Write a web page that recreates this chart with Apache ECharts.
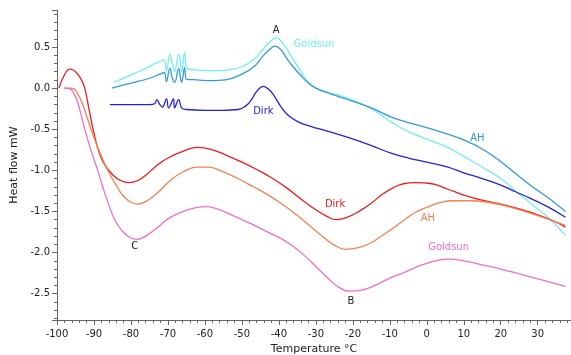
<!DOCTYPE html>
<html>
<head>
<meta charset="utf-8">
<script src="https://cdn.jsdelivr.net/npm/echarts@6/dist/echarts.min.js"></script>
<style>
  html, body { margin: 0; padding: 0; background: #fff; }
  #chart { width: 571px; height: 355px; }
</style>
</head>
<body>
<div id="chart"></div>
<script>
// DSC traces: [temperature °C, heat flow mW]
const goldsunUpper = [
  [-84.6, 0.07], [-80, 0.16], [-76, 0.24], [-73, 0.31], [-71.7, 0.33], [-71, 0.35],
  [-70.4, 0.21], [-69.5, 0.41], [-68.8, 0.3], [-68.2, 0.2], [-67.1, 0.41], [-66.6, 0.3],
  [-66.3, 0.2], [-65.5, 0.43], [-65, 0.25], [-62, 0.22], [-58, 0.21], [-54, 0.22],
  [-50, 0.26], [-46.5, 0.36], [-44.5, 0.46], [-42.5, 0.56], [-40.7, 0.61], [-39, 0.55],
  [-36.7, 0.39], [-34, 0.2], [-32, 0.07], [-30, 0.0], [-26, -0.06], [-21.3, -0.12],
  [-15, -0.25], [-9.7, -0.41], [-5, -0.53], [0, -0.62], [5.7, -0.72], [10, -0.83],
  [15, -0.96], [20, -1.1], [24, -1.25], [28, -1.4], [33, -1.58], [37.5, -1.79]
];
const ahUpper = [
  [-85.2, 0.0], [-80, 0.06], [-75, 0.12], [-71.7, 0.18], [-71, 0.19],
  [-70.4, 0.08], [-69.5, 0.24], [-68.8, 0.12], [-68.2, 0.07], [-67.1, 0.24], [-66.6, 0.12],
  [-66.3, 0.07], [-65.5, 0.25], [-65, 0.11], [-62, 0.1], [-58, 0.09], [-54.5, 0.1],
  [-50, 0.17], [-46.5, 0.27], [-44.5, 0.38], [-42.5, 0.47], [-41, 0.51], [-39.5, 0.47],
  [-38, 0.37], [-36.7, 0.29], [-34, 0.15], [-32, 0.06], [-30, 0.0], [-26, -0.07],
  [-21.3, -0.14], [-15, -0.24], [-9.7, -0.35], [-5, -0.42], [0, -0.48], [5, -0.55],
  [10, -0.63], [15, -0.74], [19, -0.86], [23.5, -1.02], [28, -1.18], [33, -1.34], [37.5, -1.5]
];
const dirkUpper = [
  [-85.7, -0.2], [-80, -0.2], [-75, -0.2], [-73.6, -0.19], [-73, -0.14], [-72.2, -0.2],
  [-71.5, -0.23], [-70.4, -0.13], [-69.8, -0.24], [-68.5, -0.13], [-68.2, -0.24],
  [-67.1, -0.14], [-66.3, -0.24], [-65, -0.26], [-60, -0.27], [-55, -0.27], [-51, -0.26],
  [-48.8, -0.21], [-47.4, -0.14], [-46, -0.04], [-44.2, 0.02], [-42.6, -0.02], [-41.2, -0.1],
  [-39.4, -0.23], [-37.5, -0.33], [-34.8, -0.41], [-31, -0.47], [-27.8, -0.51],
  [-21.3, -0.6], [-15, -0.7], [-9.7, -0.79], [-5, -0.85], [0, -0.9], [5.7, -0.96],
  [10, -1.03], [15, -1.1], [20, -1.18], [24, -1.26], [28, -1.34], [33, -1.45], [37.5, -1.57]
];
const dirkLower = [
  [-99.5, 0.0], [-98, 0.16], [-96.5, 0.23], [-95, 0.2], [-93.5, 0.11], [-92.5, 0.0],
  [-91.5, -0.22], [-90, -0.55], [-88.5, -0.8], [-87, -0.94], [-85, -1.05], [-83, -1.12],
  [-80.6, -1.15], [-78, -1.12], [-75.5, -1.04], [-73, -0.94], [-70, -0.85], [-66, -0.77],
  [-62, -0.72], [-58, -0.75], [-54, -0.82], [-50, -0.9], [-46, -0.99], [-42, -1.09],
  [-38, -1.21], [-34, -1.35], [-30, -1.48], [-27, -1.56], [-24.5, -1.6], [-21.5, -1.57],
  [-18, -1.49], [-15, -1.4], [-12, -1.29], [-9, -1.21], [-6, -1.16], [-3, -1.15], [1, -1.16],
  [5.7, -1.23], [10, -1.3], [14.6, -1.36], [20, -1.41], [25, -1.47], [30, -1.54], [34, -1.61],
  [37.5, -1.69]
];
const ahLower = [
  [-98, 0.0], [-96.5, 0.0], [-95.4, -0.01], [-94.5, -0.06], [-93.3, -0.17], [-92, -0.34],
  [-90.5, -0.54], [-89, -0.72], [-87.5, -0.88], [-85.7, -1.05], [-84, -1.18], [-82.3, -1.3],
  [-80.3, -1.38], [-78.4, -1.41], [-76, -1.38], [-72.5, -1.26], [-69.5, -1.13], [-66, -1.02],
  [-62, -0.96], [-59, -0.96], [-56, -1.0], [-51.5, -1.09], [-46.9, -1.2], [-42.5, -1.31],
  [-38.5, -1.43], [-35, -1.55], [-31.5, -1.68], [-28, -1.81], [-25, -1.91], [-22, -1.96],
  [-18.5, -1.94], [-15, -1.88], [-12, -1.79], [-9, -1.7], [-6, -1.6], [-3, -1.51],
  [0, -1.45], [3, -1.4], [6.5, -1.37], [12, -1.37], [18, -1.4], [23.5, -1.46], [30, -1.55],
  [37.5, -1.67]
];
const goldsunLower = [
  [-98, 0.0], [-96.5, -0.01], [-95.5, -0.06], [-94.5, -0.16], [-93.3, -0.36], [-92, -0.58],
  [-90.5, -0.8], [-89, -1.0], [-87.5, -1.22], [-86, -1.42], [-84.4, -1.6], [-82.5, -1.73],
  [-80.5, -1.81], [-78.3, -1.84], [-76, -1.8], [-73, -1.7], [-70, -1.59], [-66.5, -1.51],
  [-63, -1.46], [-59.6, -1.44], [-56, -1.48], [-51.5, -1.57], [-47, -1.66], [-42.6, -1.76],
  [-39, -1.84], [-36, -1.93], [-33, -2.04], [-30, -2.17], [-27, -2.3], [-24.5, -2.4],
  [-21, -2.47], [-18, -2.46], [-14, -2.4], [-10, -2.31], [-6, -2.24], [-3, -2.18], [0, -2.13],
  [5.7, -2.08], [10, -2.1], [15, -2.15], [20, -2.2], [25, -2.26], [30, -2.32], [37.5, -2.41]
];

// annotations: [temperature, heat flow]
const peakA = [-40.7, 0.7];
const peakB = [-20.5, -2.59];
const peakC = [-79, -1.93];
const goldsunUpperTag = [-30.5, 0.53];
const dirkUpperTag = [-44.2, -0.28];
const ahUpperTag = [13.7, -0.61];
const dirkLowerTag = [-24.8, -1.42];
const ahLowerTag = [0.3, -1.58];
const goldsunLowerTag = [5.9, -1.94];

const COLORS = {
  goldsunUpper: "#72EEF0",
  ahUpper: "#3399D9",
  dirkUpper: "#2222DD",
  dirkLower: "#F01C1C",
  ahLower: "#F5824F",
  goldsunLower: "#F36EC8",
  text: "#222222",
  axis: "#666666",
};
const FONT = "'DejaVu Sans', Verdana, sans-serif";

function tag(coord, text, color) {
  return {
    coord: coord,
    value: text,
    symbol: "circle",
    symbolSize: 0,
    label: {
      show: true,
      position: "inside",
      formatter: text,
      color: color,
      fontFamily: FONT,
      fontSize: 10,
    },
  };
}

function traceSeries(name, data, color, tags) {
  return {
    name: name,
    type: "line",
    data: data,
    showSymbol: false,
    smooth: 0.45,
    lineStyle: { color: color, width: 1.3 },
    itemStyle: { color: color },
    animation: false,
    silent: true,
    markPoint: { silent: true, animation: false, data: tags },
  };
}

const chart = echarts.init(document.getElementById("chart"));

chart.setOption({
  animation: false,
  textStyle: { fontFamily: FONT },
  grid: { left: 57, right: 0, top: 10, bottom: 35, containLabel: false, outerBoundsMode: "none" },
  xAxis: {
    type: "value",
    min: -100,
    max: 39,
    interval: 10,
    name: "Temperature °C",
    nameLocation: "middle",
    nameGap: 24,
    nameTextStyle: { color: COLORS.text, fontSize: 11, fontFamily: FONT },
    axisLine: { onZero: false, lineStyle: { color: COLORS.axis } },
    axisTick: { length: 5, lineStyle: { color: COLORS.axis } },
    minorTick: { show: true, splitNumber: 5, length: 3, lineStyle: { color: COLORS.axis } },
    splitLine: { show: false },
    axisLabel: {
      color: COLORS.text,
      fontSize: 10,
      margin: 9,
      formatter: (v) => (Math.abs(v % 10) < 1e-6 ? String(v) : ""),
    },
  },
  yAxis: {
    type: "value",
    min: -2.82,
    max: 0.95,
    splitNumber: 7,
    name: "Heat flow mW",
    nameLocation: "middle",
    nameGap: 28,
    nameTextStyle: { color: COLORS.text, fontSize: 11, fontFamily: FONT },
    axisLine: { show: true, onZero: false, lineStyle: { color: COLORS.axis } },
    axisTick: { show: true, length: 5, lineStyle: { color: COLORS.axis } },
    minorTick: { show: true, splitNumber: 5, length: 3, lineStyle: { color: COLORS.axis } },
    splitLine: { show: false },
    axisLabel: {
      color: COLORS.text,
      fontSize: 10,
      margin: 7,
      formatter: (v) => {
        const r = Math.round(v * 2) / 2;
        return Math.abs(r - v) < 1e-6 ? r.toFixed(1) : "";
      },
    },
  },
  series: [
    traceSeries("Goldsun", goldsunUpper, COLORS.goldsunUpper, [
      tag(goldsunUpperTag, "Goldsun", COLORS.goldsunUpper),
      tag(peakA, "A", COLORS.text),
    ]),
    traceSeries("AH", ahUpper, COLORS.ahUpper, [tag(ahUpperTag, "AH", COLORS.ahUpper)]),
    traceSeries("Dirk", dirkUpper, COLORS.dirkUpper, [tag(dirkUpperTag, "Dirk", COLORS.dirkUpper)]),
    traceSeries("Dirk", dirkLower, COLORS.dirkLower, [tag(dirkLowerTag, "Dirk", COLORS.dirkLower)]),
    traceSeries("AH", ahLower, COLORS.ahLower, [tag(ahLowerTag, "AH", COLORS.ahLower)]),
    traceSeries("Goldsun", goldsunLower, COLORS.goldsunLower, [
      tag(goldsunLowerTag, "Goldsun", COLORS.goldsunLower),
      tag(peakB, "B", COLORS.text),
      tag(peakC, "C", COLORS.text),
    ]),
  ],
});
</script>
</body>
</html>
